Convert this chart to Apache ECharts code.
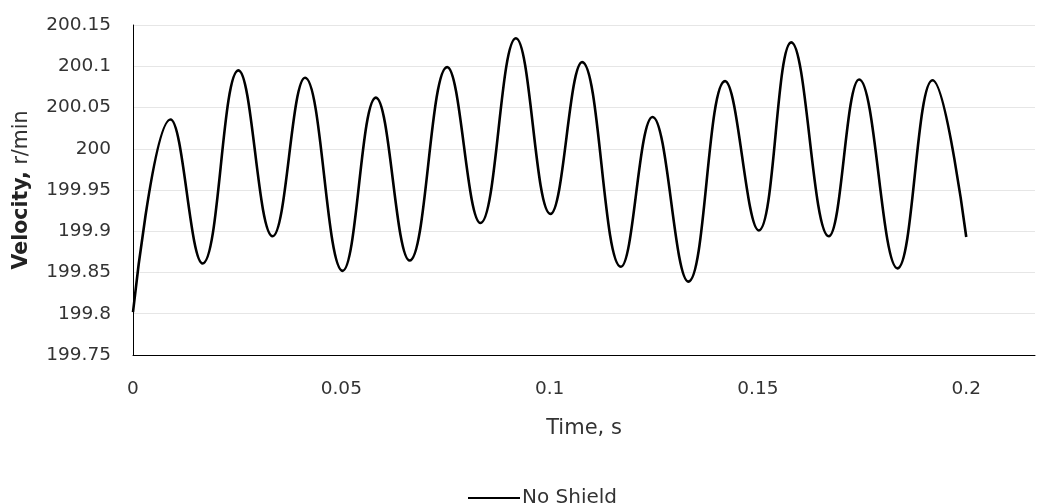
<!DOCTYPE html>
<html>
<head>
<meta charset="utf-8">
<script src="https://cdn.jsdelivr.net/npm/echarts@6/dist/echarts.min.js"></script>
<style>html,body{margin:0;padding:0;background:#fff;}#c{width:1037px;height:504px;}</style>
</head>
<body>
<div id="c"></div>
<script>
// Time (s) and velocity (r/min): start, peaks/troughs, end
const time = [
  0, 0.0090, 0.0167, 0.0253, 0.0335, 0.0413, 0.0503, 0.0583, 0.0664, 0.0754,
  0.0834, 0.0919, 0.1002, 0.1078, 0.1171, 0.1247, 0.1333, 0.1421, 0.1502, 0.1580,
  0.1670, 0.1743, 0.1835, 0.1919, 0.2000
];
const velocity = [
  199.802, 200.0355, 199.861, 200.095, 199.894, 200.086, 199.852, 200.062, 199.8645, 200.099,
  199.91, 200.134, 199.921, 200.105, 199.857, 200.0385, 199.839, 200.082, 199.901, 200.129,
  199.894, 200.084, 199.855, 200.083, 199.893
];
const seriesName = 'No Shield';
const xTitle = 'Time, s';
const yTitleBold = 'Velocity,';
const yTitleRest = ' r/min';

const FONT = 'DejaVu Sans';
const points = time.map((t, i) => [t, velocity[i]]);

const chart = echarts.init(document.getElementById('c'), null, {renderer: 'canvas'});
chart.setOption({
  animation: false,
  backgroundColor: '#fff',
  textStyle: {fontFamily: FONT},
  grid: {left: 133, right: 2, top: 25, bottom: 149, containLabel: false},
  legend: {
    data: [{name: seriesName, icon: 'rect'}],
    left: 463, top: 483,
    itemWidth: 52, itemHeight: 2, itemGap: 10,
    textStyle: {fontFamily: FONT, fontSize: 20, color: '#333', padding: [0,0,0,-3]}
  },
  xAxis: {
    type: 'value', min: 0, max: 0.2165, interval: 0.05,
    name: xTitle, nameLocation: 'middle', nameGap: 63,
    nameTextStyle: {fontFamily: FONT, fontSize: 21, color: '#333'},
    axisLine: {show: true, lineStyle: {color: '#000', width: 1}},
    axisTick: {show: false},
    splitLine: {show: false},
    axisLabel: {fontFamily: FONT, fontSize: 18.5, color: '#333', margin: 25, showMaxLabel: false}
  },
  yAxis: {
    type: 'value', min: 199.75, max: 200.15, interval: 0.05,
    name: '{b|' + yTitleBold + '}{r|' + yTitleRest + '}',
    nameLocation: 'middle', nameGap: 101, nameRotate: 90,
    nameTextStyle: {
      fontFamily: FONT, fontSize: 20.5, color: '#222',
      rich: {
        b: {fontFamily: FONT, fontSize: 20.5, fontWeight: 'bold', color: '#222'},
        r: {fontFamily: FONT, fontSize: 20.5, color: '#333'}
      }
    },
    axisLine: {show: true, lineStyle: {color: '#000', width: 1}},
    axisTick: {show: false},
    splitLine: {show: true, lineStyle: {color: '#e6e6e6', width: 1}},
    axisLabel: {fontFamily: FONT, fontSize: 18.5, color: '#333', margin: 22}
  },
  series: [{
    name: seriesName,
    type: 'line',
    data: points,
    smooth: 0.42,
    showSymbol: false,
    symbol: 'none',
    lineStyle: {color: '#000', width: 2.6},
    itemStyle: {color: '#000'}
  }]
});
</script>
</body>
</html>
